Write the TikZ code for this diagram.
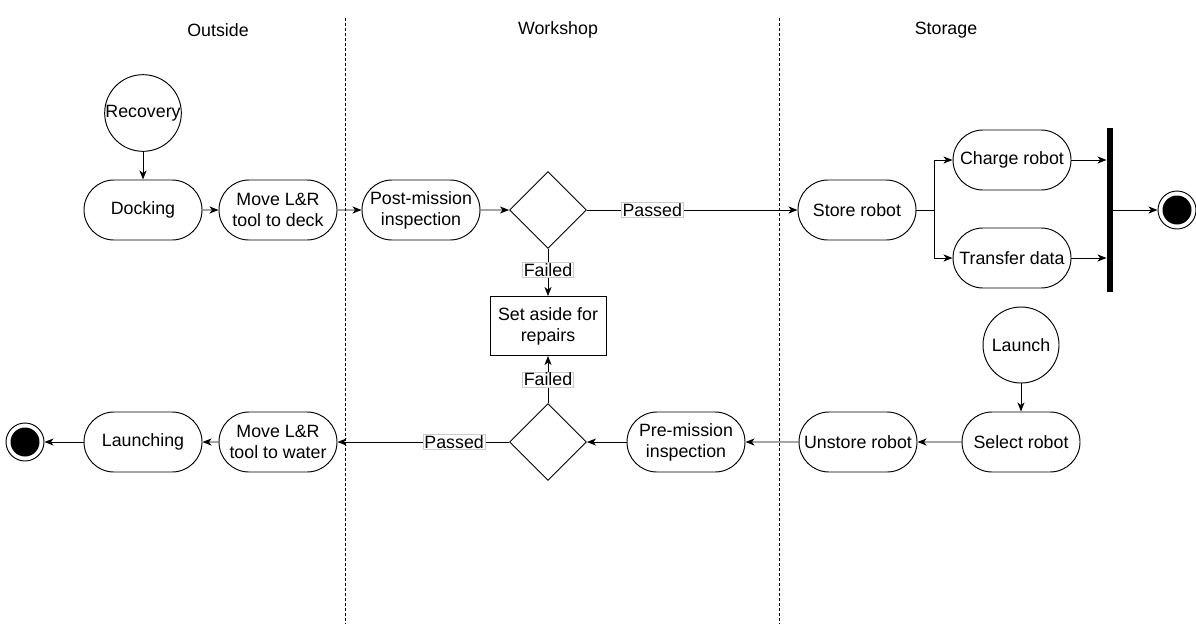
\documentclass[tikz,border=0pt]{standalone}
\usepackage{fontspec}
\setmainfont{Liberation Sans}
\usetikzlibrary{arrows.meta,shapes.misc,shapes.geometric}
\begin{document}
\begin{tikzpicture}[x=1pt,y=-1pt,
  font=\fontsize{17.8}{21}\selectfont,
  every path/.style={line width=0.95pt},
  pill/.style={rounded rectangle, draw, minimum width=118pt, minimum height=60pt, inner sep=0pt, align=center},
  startc/.style={circle, draw, minimum size=76pt, inner sep=0pt},
  dec/.style={diamond, draw, minimum size=77pt, inner sep=0pt},
  box/.style={rectangle, draw, minimum width=116pt, minimum height=59pt, inner sep=0pt, align=center},
  endc/.style={circle, draw, fill=white, minimum size=38pt, inner sep=0pt},
  lbl/.style={fill=white, draw=black!20, line width=0.6pt, inner sep=1pt},
  arr/.style={-{Stealth[length=9pt,width=7pt,inset=2.5pt]}},
  lane/.style={dash pattern=on 3pt off 2pt, line width=0.8pt},
]
\useasboundingbox (0,0) rectangle (1196,624);
% lanes
\node (tOut) at (218,30) {Outside};
\node (tWork) at (558,30) {Workshop};
\node (tSto) at (946,30) {Storage};
\draw[lane] (345,18) -- (345,624);
\draw[lane] (779,18) -- (779,624);

% top row
\node[startc] (rec) at (143,113) {Recovery};
\node[pill] (dock) at (143,210) {Docking};
\node[pill] (mdeck) at (278,210) {Move L\&R\\tool to deck};
\node[pill] (post) at (421,210) {Post-mission\\inspection};
\node[dec] (d1) at (548,210) {};
\node[pill] (store) at (857,210) {Store robot};
\node[pill] (charge) at (1012,160) {Charge robot};
\node[pill] (trans) at (1012,258) {Transfer data};
\node[fill=black, minimum width=6pt, minimum height=164pt, inner sep=0pt] (bar) at (1110,210) {};
\node[endc] (end1) at (1177,210) {};
\fill (end1.center) circle (14.5pt);
\coordinate (fork) at (934,210);

% middle
\node[box] (rep) at (548,326) {Set aside for\\repairs};

% bottom row
\node[startc] (launch) at (1021,345) {Launch};
\node[pill] (sel) at (1021,442) {Select robot};
\node[pill] (unst) at (858,442) {Unstore robot};
\node[pill] (pre) at (686,442) {Pre-mission\\inspection};
\node[dec] (d2) at (548,442) {};
\node[pill] (mwater) at (278,442) {Move L\&R\\tool to water};
\node[pill] (lnch) at (143,442) {Launching};
\node[endc] (end2) at (25,442) {};
\fill (end2.center) circle (14.5pt);

% connectors top
\draw[arr] (rec) -- (dock);
\draw[arr] (dock) -- (mdeck);
\draw[arr] (mdeck) -- (post);
\draw[arr] (post) -- (d1);
\draw[arr] (d1.east) -- node[lbl, pos=0.31] {Passed} (store.west);
\draw[arr] (d1.south) -- node[lbl, pos=0.45] {Failed} (rep.north);
\draw (store.east) -- (fork);
\draw[arr] (fork) |- (charge.west);
\draw[arr] (fork) |- (trans.west);
\draw[arr] (charge.east) -- (bar.west |- charge.east);
\draw[arr] (trans.east) -- (bar.west |- trans.east);
\draw[arr] (bar.east) -- (end1);

% connectors bottom
\draw[arr] (launch) -- (sel);
\draw[arr] (sel) -- (unst);
\draw[arr] (unst) -- (pre);
\draw[arr] (pre) -- (d2.east);
\draw[arr] (d2.north) -- node[lbl, pos=0.5] {Failed} (rep.south);
\draw[arr] (d2.west) -- node[lbl, pos=0.32] {Passed} (mwater.east);
\draw[arr] (mwater) -- (lnch);
\draw[arr] (lnch) -- (end2);
\end{tikzpicture}
\end{document}
